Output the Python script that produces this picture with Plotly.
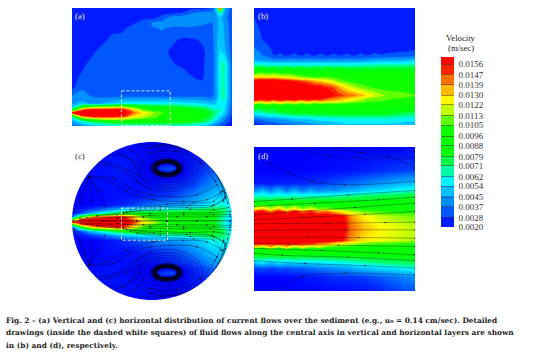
import numpy as np
import plotly.graph_objects as go

W, H = 554, 355
# velocity grids, in 1e-4 m/s
a_x = [66,96,126,156,186,216,246,276,306,336,366,396,426,456,486,498,510,522,545]
a_y = [22,35,50,68,85,120,155,190,225,260,290,310,322,330,338,346,353,364,378]
a_z = [
[25,25,25,25,25,25,25,25,25,25,25,25,25,25,30,50,170,50,30],
[25,25,25,25,25,25,25,25,25,25,25,28,36,38,40,48,72,46,30],
[25,25,25,25,25,25,25,25,25,31,40,41,41,41,40,42,50,42,30],
[25,25,25,25,25,25,26,33,38,41,41,41,40,38,37,42,50,44,31],
[25,25,25,25,25,26,34,34,36,37.5,35,35,35,35,36,42,52,44,32],
[25,25,25,25,32.5,34,35,35,35,34,30,27,27,29.5,35,44,52,46,32],
[25,25,26,34,35,35,35,35,35,31,27,27,27,27,33,44,56,50,32],
[25,25,32.5,35,35,35,35,35,35,34,29,27,27,27.5,33,44,62,66,33],
[24,30,35,35,35,35,35,35,35,35,34,31,28,27.5,33,44,62,66,34],
[26,35,35,36,36,36,36,36,36,36,36,35,33,30,34,44,62,66,34],
[38,41,37,36,36,37,37,37,37,37,37,37,37,37,37,44,62,66,34],
[44,48,44,46,52,58,60,60,60,60,60,58,56,54,50,54,60,60,34],
[55,100,118,122,125,125,110,98,90,86,84,80,76,72,62,60,62,56,32],
[80,150,165,165,165,165,135,112,100,96,92,90,88,82,70,64,64,56,32],
[165,170,170,170,170,165,148,128,116,106,98,94,92,88,76,66,62,52,30],
[90,160,170,170,170,165,135,122,112,102,98,94,92,88,76,64,58,48,28],
[60,110,135,140,140,135,122,115,108,100,96,92,90,84,72,60,52,42,26],
[44,62,76,84,90,92,92,92,90,90,90,88,84,76,62,50,44,36,26],
[38,42,50,52,56,60,62,62,62,62,62,60,58,52,44,36,32,28,24],
]

b_x = [26,46,66,86,106,126,146,166,186,206,226,246,266,286,306,326,346,366,386,406,426,466,510]
b_y = [22,115,150,165,180,195,210,232,245,262,288,298,305,318,340,360,378]
b_z = [
[26,26,26,26,26,26,26,26,26,26,26,26,26,26,26,26,26,26,26,26,26,26,26],
[34,29,26,26,26,26,26,26,26,26,26,26,26,26,26,26,26,26,26,26,26,26,26],
[38,36,31,27,26,26,26,26,26,26,26,26,26,26,26,26,26,26,26,26,26,27,28],
[40,38,34,28,30,27,30,27,30,27,30,27,30,27,30,27,30,28,30,29,30,31,33],
[46,44,42,40,40,40,40,40,40,40,40,40,40,40,40,40,40,42,44,45,46,46,50],
[65,65,62,62,62,62,62,62,62,62,62,62,62,62,62,62,62,64,64,66,66,66,68],
[85,92,84,92,84,92,84,92,84,92,84,92,84,90,84,86,84,84,84,84,84,85,86],
[125,128,128,126,124,120,118,110,108,105,105,104,102,100,98,98,97,97,97,96,96,96,95],
[170,170,170,170,165,160,156,150,145,138,132,126,118,110,105,102,100,99,99,98,98,97,96],
[170,170,170,170,170,170,170,170,165,160,158,152,146,134,124,116,110,106,103,101,100,98,96],
[170,170,170,170,170,170,170,170,170,170,170,168,158,150,146,142,136,128,122,116,112,110,105],
[170,170,170,170,170,170,170,165,165,160,156,148,142,138,132,126,120,114,110,108,106,104,102],
[148,138,146,138,146,138,144,136,142,136,140,135,132,128,122,118,114,110,108,106,104,102,100],
[100,90,100,90,100,90,98,90,96,90,95,90,94,92,92,92,92,92,92,92,92,92,92],
[62,66,72,72,78,80,84,84,84,85,85,86,86,86,86,86,86,86,86,85,85,80,76],
[36,38,42,44,46,48,52,52,54,56,58,58,60,60,62,62,62,62,62,62,62,60,58],
[24,26,30,30,34,34,36,38,40,42,44,46,48,50,52,52,52,52,52,52,52,50,48],
]

c_x = [66,96,126,156,186,216,246,276,306,336,366,396,426,456,486,516,545]
c_y = [22,60,85,100,120,150,185,210,222,235,245,252,260,268,275,287,300,315,350,385,400,413,425,460,495]
c_z = [
[20,20,20,20,20,20,20,20,20,20,20,20,20,20,20,20,20],
[20,21,21,22,22,22,22,22,21,21,21,22,23,24,26,28,28],
[20,21,22,22,23,24,23,21,20,20,20,20,24,26,30,32,32],
[20,21,22,22,23,24,23,21,20,30,32,20,24,28,32,36,36],
[20,21,22,22,23,23,23,21,20,20,20,21,26,30,36,40,40],
[20,20,21,22,22,22,22,22,22,24,26,28,30,36,42,48,48],
[20,20,20,21,22,22,22,24,26,28,30,34,40,46,52,54,54],
[20,20,20,22,24,26,30,34,38,42,44,46,50,56,64,66,60],
[22,24,30,36,44,52,56,60,62,66,68,70,74,76,80,76,60],
[24,34,52,64,78,90,92,92,92,90,90,90,90,90,90,80,56],
[32,95,135,145,152,158,140,112,102,98,96,95,95,93,90,72,52],
[110,160,170,170,170,170,150,125,112,102,98,96,96,94,90,70,50],
[160,170,170,170,170,170,160,136,124,108,100,97,96,94,90,68,48],
[100,160,170,170,170,170,148,122,110,100,97,96,95,93,90,70,50],
[32,95,135,145,152,158,135,110,100,96,95,95,95,93,90,72,52],
[24,34,52,64,78,90,92,92,92,90,90,90,90,90,90,80,56],
[22,24,30,36,44,52,56,60,62,66,68,70,74,76,80,76,60],
[20,20,20,22,24,26,30,34,38,42,44,46,50,56,64,66,60],
[20,20,20,21,22,22,22,24,26,28,30,34,40,46,52,54,54],
[20,20,21,22,22,22,22,22,22,24,26,28,30,36,42,48,48],
[20,20,21,22,23,22,21,20,20,20,20,21,26,30,36,40,40],
[20,21,22,22,22,22,21,20,20,30,32,20,24,28,32,36,36],
[20,21,22,22,23,22,21,20,20,20,20,20,24,26,30,32,32],
[20,21,21,22,22,22,22,22,21,21,21,22,23,24,26,28,28],
[20,20,20,20,20,20,20,20,20,20,20,20,20,20,20,20,20],
]

d_x = [26,50,74,98,122,146,170,194,218,242,266,290,314,338,362,386,410,434,458,482,510]
d_y = [22,90,130,150,165,185,205,215,228,260,300,310,320,328,345,365,385,410,453]
d_z = [
[20,20,20,20,20,20,20,20,20,20,20,20,20,20,20,20,20,20,20,21,21],
[20,20,20,20,20,20,20,20,21,21,22,22,23,24,25,26,27,28,29,30,30],
[24,24,24,25,25,26,26,27,28,30,32,34,36,38,40,42,44,46,48,50,52],
[40,50,38,50,38,48,38,46,40,44,42,46,48,50,54,56,58,60,62,64,66],
[62,66,62,66,62,66,62,66,64,66,66,68,70,72,74,74,76,76,78,80,80],
[84,84,84,86,86,86,86,86,88,88,88,88,88,88,88,88,90,90,90,90,90],
[125,135,120,135,118,130,115,125,112,115,108,108,106,104,102,102,100,100,100,100,100],
[158,165,148,165,148,162,148,158,146,150,138,128,122,116,112,110,108,106,105,105,105],
[170,170,170,170,170,170,170,170,170,170,170,165,146,136,130,126,122,120,118,116,115],
[170,170,170,170,170,170,170,170,170,170,170,170,150,144,138,134,130,128,126,124,122],
[170,170,170,170,170,170,170,170,170,170,168,160,146,138,132,130,128,126,124,122,120],
[165,170,160,170,160,168,158,160,150,148,136,130,124,118,114,112,110,110,108,108,106],
[130,112,138,112,138,112,130,112,120,108,106,104,102,100,100,100,100,100,100,100,100],
[96,90,104,90,104,92,100,92,96,94,94,94,94,94,94,94,94,94,94,94,94],
[84,84,84,84,86,86,86,86,86,86,88,88,88,88,88,88,88,88,88,90,90],
[52,60,52,60,54,60,56,60,58,62,62,64,66,68,70,72,74,76,76,78,78],
[30,32,30,32,32,34,34,36,38,40,42,44,46,50,52,54,56,58,60,62,64],
[20,20,20,20,21,22,22,24,24,26,27,28,28,29,30,32,34,36,38,40,42],
[20,20,20,20,20,20,20,20,20,21,21,21,21,22,22,24,26,28,30,32,32],
]

# streamlines of (c), upper half; the lower half mirrors them about its axis
c_lines = [
([70,160,260,350,440,540],[258,258,258,258,258,258]),
([90,180,280,380,470,540],[252,248,247,246,246,244]),
([200,300,400,490,538],[250,242,240,240,238]),
([110,200,300,400,480,540],[248,240,236,234,234,230]),
([140,230,330,420,490,535],[243,232,226,223,225,218]),
([220,310,410,485,520],[235,222,218,215,195]),
([240,330,420,490,525],[226,216,212,210,190]),
([260,350,430,490,515],[220,208,204,200,170]),
([118,170,230,310,400,470,515],[125,135,170,195,200,195,170]),
([118,190,240,300,360,440,500],[125,130,160,180,185,180,150]),
([430,480,515,532],[40,80,140,205]),
([118,72],[125,232]),([118,90],[125,205]),([118,125],[125,200]),([118,150],[125,170]),([118,165],[125,215]),
([130,200,260,300],[90,100,140,165]),
([125,170,230,290],[85,85,105,140]),
([160,220,270],[50,60,100]),
([200,250,280],[35,50,85]),
([175,240,270],[60,75,120]),
([270,330,420,490,525],[32,30,50,110,175]),
([300,380,460,505,525],[40,38,70,130,190]),
([300,380,450,495,520],[55,50,85,140,200]),
([460,500,525],[65,120,185]),
]
c_eye_x = [350]
c_eye_y = [100, 413]
c_eye_rx = [30,33,36,39,42,46,52,60,70,82,95,108]
c_eye_ry = [15,17,19,21,23,26,30,36,44,52,61,70]

# streamlines of (d)
d_lines = [
([165,250,330,510],[30,48,55,55]),
([270,350,430,510],[25,40,50,85]),
([70,130,200,300,510],[70,100,125,135,125]),
([26,140,310,510],[185,178,165,152]),
([26,210,400,510],[200,190,180,172]),
([26,120,330,510],[225,218,203,190]),
([26,170,360,510],[240,233,224,215]),
([26,250,420,510],[252,250,248,247]),
([26,90,300,510],[272,271,270,270]),
([26,190,340,510],[292,292,293,295]),
([26,130,280,510],[310,313,316,320]),
([26,230,400,510],[325,332,339,345]),
([26,110,310,510],[340,346,352,362]),
([26,180,360,510],[362,371,377,385]),
([100,170,300,510],[450,410,400,405]),
]

tick_vals = [0.0020,0.0028,0.0037,0.0045,0.0054,0.0062,0.0071,0.0079,0.0088,0.0096,0.0105,0.0113,0.0122,0.0130,0.0139,0.0147,0.0156]
tick_text = ["0.0020","0.0028","0.0037","0.0045","0.0054","0.0062","0.0071","0.0079","0.0088","0.0096","0.0105","0.0113","0.0122","0.0130","0.0139","0.0147","0.0156"]
caption = [
 "Fig. 2 – (a) Vertical and (c) horizontal distribution of current flows over the sediment (e.g., u₀ = 0.14 cm/sec). Detailed",
 "drawings (inside the dashed white squares) of fluid flows along the central axis in vertical and horizontal layers are shown",
 "in (b) and (d), respectively.",
]

ZMIN, ZMAX = 0.0020, 0.0162
def cs(v, col):
    return [(v-20)/(162-20), col]
scale = [cs(20,"#0000ff"),cs(28,"#0030ff"),cs(37,"#0070ff"),cs(45,"#00a0ff"),cs(54,"#00d0ff"),cs(62,"#00ffff"),
         cs(71,"#00ff90"),cs(79,"#00ff40"),cs(88,"#00ff00"),cs(105,"#10ff00"),cs(113,"#60ff00"),cs(122,"#c0ff00"),
         cs(130,"#ffff00"),cs(139,"#ffc000"),cs(147,"#ff8000"),cs(156,"#ff3000"),cs(162,"#ff0000")]

SERIF = "Liberation Serif"
fig = go.Figure()
panels = {  # left, top, right, bottom in px
 "": (72,8,232,126), "2": (254,8,415,125), "3": (72,142,232,300), "4": (254,147,415,291)}
ranges = {"": ([66,545],[378,22]), "2": ([26,510],[378,22]), "3": ([66,545],[495,22]), "4": ([26,510],[453,22])}
for k,(l,t,r,b) in panels.items():
    fig.update_layout({
      f"xaxis{k}": dict(domain=[l/W,r/W], range=ranges[k][0], visible=False, anchor=f"y{k}"),
      f"yaxis{k}": dict(domain=[1-b/H,1-t/H], range=ranges[k][1], visible=False, anchor=f"x{k}"),
    })

def contour(x,y,z,k,coloring,bar=False):
    tr = go.Contour(x=x,y=y,z=(np.array(z)/1e4).tolist(),xaxis=f"x{k}",yaxis=f"y{k}",
        colorscale=scale,zmin=ZMIN,zmax=ZMAX,line=dict(width=0,smoothing=1.3),
        contours=dict(coloring=coloring,start=0.0020,end=0.0156,size=0.00085),
        showscale=bar,hoverinfo="skip")
    if bar:
        tr.colorbar = dict(x=441/W,xanchor="left",xpad=0,y=1-227/H,yanchor="bottom",ypad=0,
            len=170,lenmode="pixels",thickness=13,thicknessmode="pixels",outlinewidth=0,
            tickmode="array",tickvals=tick_vals,ticktext=["\u00a0"+t for t in tick_text],ticks="inside",ticklen=13,
            tickwidth=0.5,tickcolor="rgba(60,40,40,0.5)",
            tickfont=dict(family=SERIF,size=9,color="#333"))
    fig.add_trace(tr)

contour(a_x,a_y,a_z,"","fill",bar=True)
contour(b_x,b_y,b_z,"2","fill")
contour(c_x,c_y,c_z,"3","heatmap")
contour(d_x,d_y,d_z,"4","heatmap")

LINE = dict(color="rgba(0,0,30,0.65)",width=0.5,shape="spline")
MARK = dict(size=1.6,color="rgba(0,0,20,0.8)")
for xs,ys in c_lines:
    for yy in (ys,[516-v for v in ys]):
        fig.add_trace(go.Scatter(x=xs,y=yy,mode="lines+markers",line=LINE,marker=MARK,xaxis="x3",yaxis="y3",showlegend=False,hoverinfo="skip"))
for xs,ys in d_lines:
    fig.add_trace(go.Scatter(x=xs,y=ys,mode="lines+markers",line=LINE,marker=MARK,xaxis="x4",yaxis="y4",showlegend=False,hoverinfo="skip"))

shapes = []
for cy in c_eye_y:
    for rx,ry in zip(c_eye_rx,c_eye_ry):
        shapes.append(dict(type="circle",xref="x3",yref="y3",x0=c_eye_x[0]-rx,x1=c_eye_x[0]+rx,y0=cy-ry,y1=cy+ry,
                           line=dict(color="rgba(0,0,20,0.95)" if rx<50 else "rgba(0,0,30,0.6)",width=1.1 if rx<50 else 0.5),layer="above"))
# white surround that turns panel (c) into a disc
th = np.linspace(0,2*np.pi,121)[:-1]
cx0,cy0,rx0,ry0 = 305.5,258.5,239.5,236.5
ring = "M "+" L ".join(f"{cx0+rx0*np.cos(t):.1f},{cy0+ry0*np.sin(t):.1f}" for t in th)+" Z"
shapes.append(dict(type="path",xref="x3",yref="y3",path=f"M 60,10 L 555,10 L 555,505 L 60,505 Z {ring}",
                   fillcolor="white",line=dict(width=0),fillrule="evenodd",layer="above"))
# dashed boxes
DASH = dict(color="rgba(255,255,255,0.85)",width=1,dash="3px,2px")
shapes.append(dict(type="rect",xref="x",yref="y",x0=214,x1=360,y0=272,y1=376,line=DASH))
shapes.append(dict(type="rect",xref="x3",yref="y3",x0=214,x1=352,y0=220,y1=316,line=DASH))
fig.update_layout(shapes=shapes)

ann = []
def label(px,py,text,color="#222",size=8.7,family=SERIF,anchor="left"):
    ann.append(dict(x=px/W,y=1-py/H,xref="paper",yref="paper",text=text,showarrow=False,xanchor=anchor,yanchor="middle",
                    xshift=0,font=dict(family=family,size=size,color=color),align="left"))
label(73,16,"(a)","#eef")
label(256,16,"(b)","#eef")
label(73,156,"(c)","#333")
label(256,156,"(d)","#eef")
label(461,38,"Velocity",anchor="center")
label(461,48,"(m/sec)",anchor="center")
for py,t in zip([320,332.5,345],caption):
    label(4,py,f"<b>{t}</b>","#222",size=7.4,family="DejaVu Serif")
fig.update_layout(annotations=ann,width=W,height=H,margin=dict(l=0,r=0,t=0,b=0),autosize=False,
    paper_bgcolor="white",plot_bgcolor="white",showlegend=False)
fig.write_html("out.html",config=dict(displayModeBar=False),
    post_script="document.body.style.margin='0';")
